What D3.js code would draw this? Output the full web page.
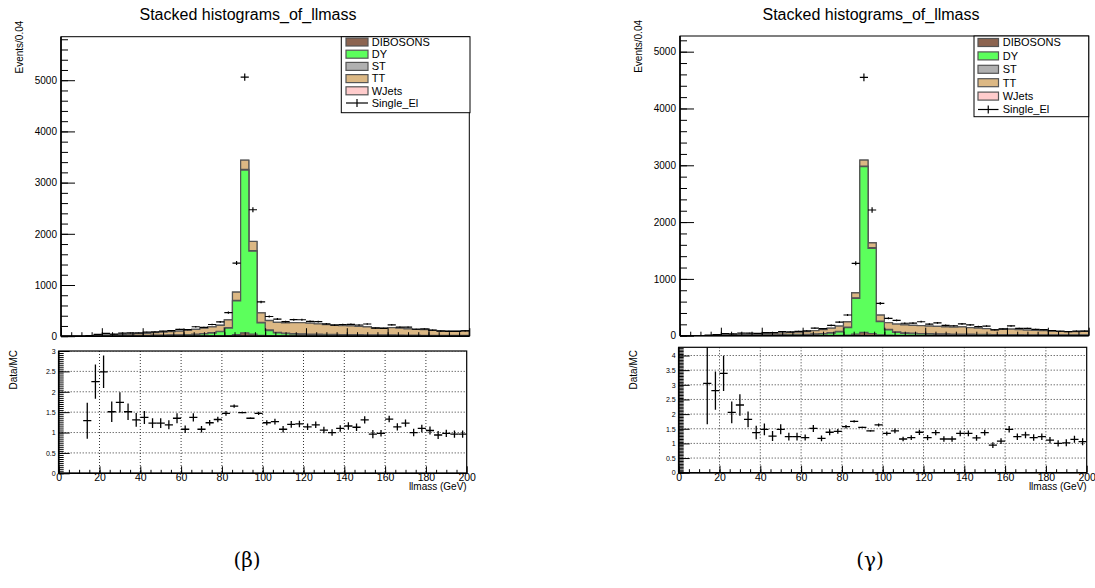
<!DOCTYPE html>
<html><head><meta charset="utf-8">
<script src="https://cdn.jsdelivr.net/npm/d3@7"></script>
<style>
body{margin:0;background:#fff}
svg{display:block}
text{font-family:"Liberation Sans",Arial,Helvetica,sans-serif;fill:#000}
</style>
</head><body>
<svg id="chart" width="1095" height="588"></svg>
<script>
// ---------------- DATA ----------------
const binCenters = [2,6,10,14,18,22,26,30,34,38,42,46,50,54,58,62,66,70,74,78,82,86,90,94,98,102,106,110,114,118,122,126,130,134,138,142,146,150,154,158,162,166,170,174,178,182,186,190,194,198];
const binWidth = 4;
const layerNames = ["DIBOSONS","DY","ST","TT","WJets"];
const dataName = "Single_El";
const titleText = "Stacked histograms_of_llmass";
const yTitle = "Events/0.04";
const ratioTitle = "Data/MC";
const xTitle = "llmass (GeV)";
const xTicks = [0,20,40,60,80,100,120,140,160,180,200];
const topTicks = [0,1000,2000,3000,4000,5000];
const ratioTicksB = [0,0.5,1,1.5,2,2.5,3];
const ratioTicksG = [0,0.5,1,1.5,2,2.5,3,3.5,4];

// panel (beta)
const dibB = [0,0,0,0,1,1,1,1,2,2,2,3,3,3,3,4,4,5,6,7,10,30,65,40,15,10,8,8,8,7,7,7,6,6,6,6,5,5,5,5,5,4,4,4,4,4,3,3,3,3];
const dyB  = [0,0,1,3,5,7,8,9,10,11,12,14,15,17,19,22,28,38,55,80,146,658,3178,1620,245,100,55,40,32,28,25,22,20,18,17,16,15,14,13,12,12,11,10,10,9,9,8,8,8,8];
const stB  = [0,0,0,0,1,1,2,2,3,3,4,4,5,5,6,6,7,8,9,10,11,12,14,13,12,12,12,12,12,12,11,11,11,10,10,10,9,9,8,8,8,7,7,7,6,6,6,5,5,5];
const ttB  = [0,0,2,5,8,13,16,21,26,33,39,48,56,64,71,85,94,105,113,116,151,160,180,177,184,184,195,200,214,216,210,198,190,181,174,167,164,153,137,130,142,133,122,114,110,92,87,81,81,91];
const wjB  = [0,0,0,0,0,0,1,1,1,1,1,1,1,1,1,1,2,2,2,2,2,2,3,2,2,2,2,2,2,2,2,2,1,1,1,1,1,1,1,1,1,1,1,1,1,1,1,1,1,1];
const dataB = [0,0,0,10,34,55,42,59,63,66,79,86,98,107,135,127,185,171,229,280,460,1429,5060,2470,669,385,335,283,322,321,291,286,242,216,229,232,219,238,157,153,223,178,177,136,143,118,99,96,94,104];
const ratioB = [null,null,null,1.29,2.25,2.49,1.51,1.74,1.51,1.31,1.37,1.23,1.23,1.19,1.35,1.08,1.37,1.08,1.24,1.32,1.47,1.65,1.49,1.35,1.47,1.24,1.27,1.08,1.2,1.21,1.14,1.19,1.06,1.0,1.1,1.16,1.13,1.31,0.96,0.98,1.33,1.14,1.23,1.0,1.1,1.05,0.94,0.98,0.96,0.96];
const ratioErrB = [null,null,null,0.44,0.42,0.40,0.25,0.25,0.2,0.17,0.16,0.12,0.12,0.11,0.12,0.09,0.10,0.08,0.07,0.07,0.06,0.04,0.02,0.02,0.04,0.06,0.07,0.08,0.08,0.08,0.08,0.08,0.08,0.08,0.08,0.09,0.09,0.09,0.1,0.08,0.08,0.09,0.09,0.09,0.09,0.1,0.1,0.09,0.09,0.09];

// panel (gamma)
const dibG = [0,0,0,0,1,1,1,1,2,2,2,2,3,3,3,3,4,4,5,6,9,28,60,39,15,9,7,7,6,6,6,6,5,5,5,5,5,4,4,4,4,4,3,3,3,3,3,3,3,3];
const dyG  = [0,0,1,2,3,5,6,6,7,8,9,10,11,12,13,15,20,28,40,62,132,630,2915,1500,232,92,50,35,28,24,21,19,17,15,14,13,12,11,10,10,9,9,8,8,7,7,7,6,6,6];
const stG  = [0,0,0,0,1,1,2,2,3,3,4,4,5,5,6,6,7,7,8,9,9,10,12,11,10,10,10,10,10,9,9,9,9,8,8,8,8,7,7,7,6,6,6,6,5,5,5,5,4,4];
const ttG  = [0,0,0,1,2,4,7,9,12,16,21,27,30,35,40,47,56,68,78,92,95,87,104,85,105,117,138,137,139,138,133,129,126,123,128,115,109,101,86,90,96,86,82,76,72,66,62,57,58,62];
const wjG  = [0,0,0,0,0,0,0,1,1,1,1,1,1,1,1,1,1,1,1,1,2,2,2,2,2,1,1,1,1,1,1,1,1,1,1,1,1,1,1,1,1,1,1,1,1,1,1,1,1,1];
const dataG = [0,0,0,9,20,37,33,44,46,41,55,55,74,69,77,86,133,126,182,238,364,1274,4549,2213,570,306,270,219,221,246,204,225,182,175,209,190,161,170,102,121,172,130,129,113,108,91,78,73,82,81];
const ratioG = [null,null,null,3.05,2.8,3.39,2.06,2.31,1.82,1.37,1.48,1.25,1.48,1.23,1.23,1.2,1.51,1.17,1.38,1.41,1.57,1.75,1.55,1.43,1.63,1.34,1.43,1.15,1.2,1.38,1.2,1.37,1.15,1.15,1.34,1.34,1.19,1.37,0.94,1.08,1.48,1.23,1.29,1.2,1.23,1.11,1.0,1.02,1.14,1.06];
const ratioErrG = [null,null,null,1.4,0.65,0.6,0.37,0.37,0.27,0.23,0.2,0.17,0.17,0.13,0.13,0.1,0.12,0.1,0.1,0.08,0.06,0.04,0.02,0.02,0.05,0.07,0.08,0.08,0.08,0.09,0.09,0.09,0.09,0.09,0.1,0.1,0.1,0.1,0.1,0.1,0.11,0.11,0.11,0.11,0.11,0.11,0.11,0.12,0.12,0.12];

const layerColors = ["#8c6450","#5cff5c","#b0b0b0","#dcb884","#ffcccc"];

// ---------------- DRAW ----------------
const svg = d3.select("#chart");
let clipId = 0;

function styleAxis(g, fontSize){
  g.select(".domain").remove();
  g.selectAll(".tick line").attr("stroke","#000").attr("stroke-width",1);
  g.selectAll("text").style("font-size",fontSize+"px").attr("fill","#000");
}

function drawPanel(cfg){
  const root = svg.append("g");
  root.append("text").attr("x",cfg.titleX).attr("y",20).attr("text-anchor","middle")
    .style("font-size","16px").text(titleText);

  const x = d3.scaleLinear().domain([0,200]).range([cfg.tx0,cfg.tx1]);
  const y = d3.scaleLinear().domain([0,cfg.topMax]).range([cfg.ty1,cfg.ty0]);
  const cid = "clip"+(clipId++);
  root.append("clipPath").attr("id",cid).append("rect")
    .attr("x",cfg.tx0).attr("y",cfg.ty0).attr("width",cfg.tx1-cfg.tx0).attr("height",cfg.ty1-cfg.ty0);
  const plot = root.append("g").attr("clip-path",`url(#${cid})`);

  const cum = [];
  cfg.layers.forEach((arr,k)=>{
    cum.push(arr.map((v,i)=> v + (k>0?cum[k-1][i]:0)));
  });
  for(let k=cum.length-1;k>=0;k--){
    const vals = cum[k];
    const p = d3.path();
    p.moveTo(x(0),y(0));
    vals.forEach((v,i)=>{
      const lo = binCenters[i]-binWidth/2, hi = binCenters[i]+binWidth/2;
      p.lineTo(x(lo),y(v)); p.lineTo(x(hi),y(v));
    });
    p.lineTo(x(200),y(0)); p.closePath();
    plot.append("path").attr("d",p.toString()).attr("fill",layerColors[k])
      .attr("stroke","#555").attr("stroke-width",1.2).attr("stroke-linejoin","miter");
  }
  const dg = plot.append("g").attr("stroke","#000").attr("stroke-width",1.2);
  cfg.data.forEach((v,i)=>{
    if(!(v>0)) return;
    const lo = binCenters[i]-binWidth/2, hi = binCenters[i]+binWidth/2;
    const e = Math.sqrt(v);
    dg.append("line").attr("x1",x(lo)).attr("x2",x(hi)).attr("y1",y(v)).attr("y2",y(v));
    dg.append("line").attr("x1",x(binCenters[i])).attr("x2",x(binCenters[i])).attr("y1",y(v-e)).attr("y2",y(v+e));
  });

  const yMinor = d3.range(0,cfg.topMax,200);
  const gyMin = root.append("g").attr("transform",`translate(${cfg.tx0},0)`)
    .call(d3.axisLeft(y).tickValues(yMinor).tickSize(-7).tickFormat(""));
  styleAxis(gyMin,10);
  const gy = root.append("g").attr("transform",`translate(${cfg.tx0},0)`)
    .call(d3.axisLeft(y).tickValues(topTicks).tickSize(-14).tickPadding(4).tickFormat(d3.format("d")));
  styleAxis(gy,10);
  const xMinor = d3.range(0,200,5);
  const gxMin = root.append("g").attr("transform",`translate(0,${cfg.ty1})`)
    .call(d3.axisBottom(x).tickValues(xMinor).tickSize(-4).tickFormat(""));
  styleAxis(gxMin,10);
  const gx = root.append("g").attr("transform",`translate(0,${cfg.ty1})`)
    .call(d3.axisBottom(x).tickValues(xTicks).tickSize(-8).tickFormat(""));
  styleAxis(gx,10);
  root.append("rect").attr("x",cfg.tx0).attr("y",cfg.ty0).attr("width",cfg.tx1-cfg.tx0).attr("height",cfg.ty1-cfg.ty0)
    .attr("fill","none").attr("stroke","#000").attr("stroke-width",1);
  root.append("line").attr("x1",cfg.tx0).attr("x2",cfg.tx0).attr("y1",cfg.ty0).attr("y2",cfg.ty1).attr("stroke","#000").attr("stroke-width",1.6);
  root.append("line").attr("x1",cfg.tx0).attr("x2",cfg.tx1).attr("y1",cfg.ty1).attr("y2",cfg.ty1).attr("stroke","#000").attr("stroke-width",1.6);

  root.append("text").attr("transform",`translate(${cfg.tx0-38},${cfg.ty0-16}) rotate(-90)`)
    .attr("text-anchor","end").style("font-size","10px").text(yTitle);

  const L = cfg.legend;
  const lg = root.append("g");
  lg.append("rect").attr("x",L.x0).attr("y",L.y0).attr("width",L.x1-L.x0).attr("height",L.y1-L.y0)
    .attr("fill","#fff").attr("stroke","#000").attr("stroke-width",1);
  const entries = layerNames.concat([dataName]);
  entries.forEach((name,k)=>{
    const cy = L.first + k*L.step;
    if(k<layerNames.length){
      lg.append("rect").attr("x",L.bx).attr("y",cy-4).attr("width",L.bw).attr("height",8)
        .attr("fill",layerColors[k]).attr("stroke","#555").attr("stroke-width",1.2);
    } else {
      lg.append("line").attr("x1",L.bx).attr("x2",L.bx+L.bw).attr("y1",cy).attr("y2",cy).attr("stroke","#000").attr("stroke-width",1.2);
      lg.append("line").attr("x1",L.bx+L.bw/2).attr("x2",L.bx+L.bw/2).attr("y1",cy-4).attr("y2",cy+4).attr("stroke","#000").attr("stroke-width",1.2);
    }
    lg.append("text").attr("x",L.tx).attr("y",cy).attr("dy","0.35em").style("font-size",L.fs+"px").text(name);
  });

  const rx = d3.scaleLinear().domain([0,200]).range([cfg.rx0,cfg.rx1]);
  const ry = d3.scaleLinear().domain([0,cfg.ratMax]).range([cfg.ry1,cfg.ry0]);
  const rcid = "clip"+(clipId++);
  root.append("clipPath").attr("id",rcid).append("rect")
    .attr("x",cfg.rx0).attr("y",cfg.ry0).attr("width",cfg.rx1-cfg.rx0).attr("height",cfg.ry1-cfg.ry0);
  const rplot = root.append("g").attr("clip-path",`url(#${rcid})`);
  const grid = rplot.append("g").attr("stroke","#000").attr("stroke-width",0.8).attr("stroke-dasharray","1,2");
  cfg.ratioTicks.forEach(t=>{ if(t>0) grid.append("line").attr("x1",cfg.rx0).attr("x2",cfg.rx1).attr("y1",ry(t)).attr("y2",ry(t)); });
  xTicks.forEach(t=>{ if(t>0 && t<200) grid.append("line").attr("x1",rx(t)).attr("x2",rx(t)).attr("y1",cfg.ry0).attr("y2",cfg.ry1); });
  const rg = rplot.append("g").attr("stroke","#000").attr("stroke-width",1.3);
  cfg.ratio.forEach((v,i)=>{
    if(v==null) return;
    const lo = binCenters[i]-binWidth/2, hi = binCenters[i]+binWidth/2;
    const e = cfg.ratioErr[i];
    rg.append("line").attr("x1",rx(lo)).attr("x2",rx(hi)).attr("y1",ry(v)).attr("y2",ry(v));
    rg.append("line").attr("x1",rx(binCenters[i])).attr("x2",rx(binCenters[i])).attr("y1",ry(v-e)).attr("y2",ry(v+e));
  });
  const ryMinor = d3.range(0,cfg.ratMax,0.05);
  const gryMin = root.append("g").attr("transform",`translate(${cfg.rx0},0)`)
    .call(d3.axisLeft(ry).tickValues(ryMinor).tickSize(-5).tickFormat(""));
  styleAxis(gryMin,7);
  const gry = root.append("g").attr("transform",`translate(${cfg.rx0},0)`)
    .call(d3.axisLeft(ry).tickValues(cfg.ratioTicks).tickSize(-11).tickPadding(3).tickFormat(d3.format("")));
  styleAxis(gry,7);
  const grxMin = root.append("g").attr("transform",`translate(0,${cfg.ry1})`)
    .call(d3.axisBottom(rx).tickValues(xMinor).tickSize(-3.5).tickFormat(""));
  styleAxis(grxMin,10);
  const grx = root.append("g").attr("transform",`translate(0,${cfg.ry1})`)
    .call(d3.axisBottom(rx).tickValues(xTicks).tickSize(-7).tickPadding(0.5).tickFormat(d3.format("d")));
  styleAxis(grx,10.5);
  root.append("rect").attr("x",cfg.rx0).attr("y",cfg.ry0).attr("width",cfg.rx1-cfg.rx0).attr("height",cfg.ry1-cfg.ry0)
    .attr("fill","none").attr("stroke","#000").attr("stroke-width",1.2);
  root.append("line").attr("x1",cfg.rx0).attr("x2",cfg.rx0).attr("y1",cfg.ry0).attr("y2",cfg.ry1).attr("stroke","#000").attr("stroke-width",1.6);
  root.append("line").attr("x1",cfg.rx0).attr("x2",cfg.rx1).attr("y1",cfg.ry1).attr("y2",cfg.ry1).attr("stroke","#000").attr("stroke-width",1.6);

  root.append("text").attr("transform",`translate(${cfg.rx0-41.5},${350}) rotate(-90)`)
    .attr("text-anchor","end").style("font-size","10px").text(ratioTitle);
  root.append("text").attr("x",cfg.rx1).attr("y",cfg.ry1+17).attr("text-anchor","end")
    .style("font-size","10px").text(xTitle);

  root.append("text").attr("x",cfg.capX).attr("y",567).attr("text-anchor","middle")
    .style("font-size","20px").style("font-family","'DejaVu Serif',serif").text(cfg.caption);
}

drawPanel({
  titleX:248, tx0:61, tx1:469.3, ty0:36.7, ty1:336.2, topMax:5850,
  rx0:58.7, rx1:466.7, ry0:351, ry1:473.3, ratMax:3, ratioTicks:ratioTicksB,
  layers:[dibB,dyB,stB,ttB,wjB], data:dataB, ratio:ratioB, ratioErr:ratioErrB,
  legend:{x0:341.3,x1:470,y0:36.7,y1:112.7,first:42,step:12.2,bx:346,bw:22,tx:371.7,fs:11},
  capX:247, caption:"(β)"
});
drawPanel({
  titleX:871, tx0:680, tx1:1088.7, ty0:36, ty1:335.7, topMax:5276,
  rx0:678.7, rx1:1086.7, ry0:347.3, ry1:472.7, ratMax:4.28, ratioTicks:ratioTicksG,
  layers:[dibG,dyG,stG,ttG,wjG], data:dataG, ratio:ratioG, ratioErr:ratioErrG,
  legend:{x0:974,x1:1088.7,y0:36,y1:116.7,first:42.5,step:13.4,bx:978,bw:20.5,tx:1002.7,fs:11},
  capX:870, caption:"(γ)"
});
</script>
</body></html>
